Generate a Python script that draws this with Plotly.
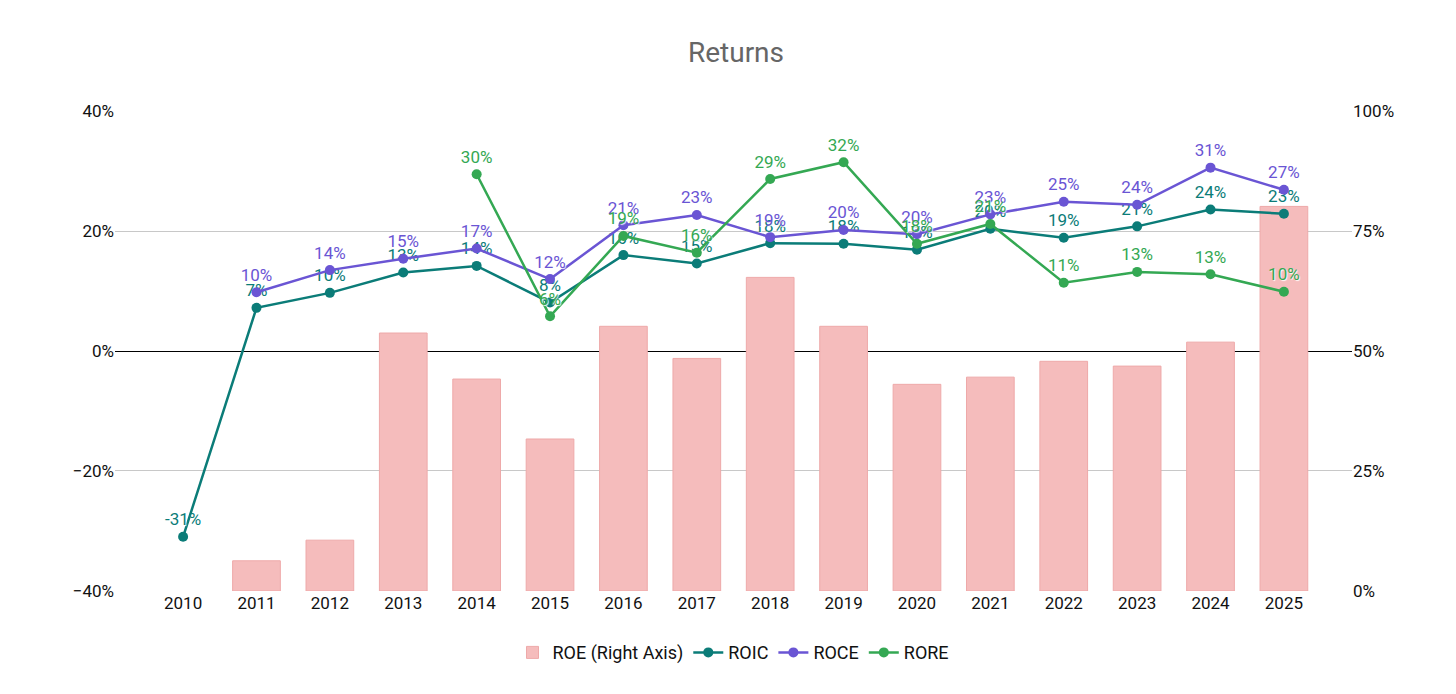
import plotly.graph_objects as go

years = [str(y) for y in range(2010, 2026)]

# ROE on the right axis, in %
roe = [None, 6.3, 10.6, 53.8, 44.2, 31.7, 55.2, 48.5, 65.4, 55.2, 43.1, 44.6, 47.9, 46.9, 51.9, 80.2]
roic = [-31, 7.2, 9.7, 13.1, 14.2, 8.1, 16.0, 14.6, 18.0, 17.9, 16.9, 20.4, 18.9, 20.8, 23.6, 22.9]
roce = [None, 9.8, 13.5, 15.4, 17.1, 12.0, 21.0, 22.7, 19.0, 20.2, 19.5, 22.8, 24.9, 24.4, 30.6, 26.9]
rore = [None, None, None, None, 29.5, 5.8, 19.2, 16.4, 28.7, 31.5, 17.9, 21.2, 11.4, 13.2, 12.8, 9.9]

teal = '#0b7c78'
purple = '#6a55d4'
green = '#34a853'


def labels(vals):
    return ['' if v is None else f"{round(v):.0f}%" for v in vals]


fig = go.Figure()

# bars sit on the base axis (drawn right side) so the lines overlay them
fig.add_trace(go.Bar(
    x=years, y=roe, name='ROE (Right Axis)', yaxis='y',
    marker=dict(color='#f5bcbc', line=dict(color='#eea9a9', width=1)),
    width=0.65))

for name, vals, color in [('ROIC', roic, teal), ('ROCE', roce, purple), ('RORE', rore, green)]:
    fig.add_trace(go.Scatter(
        x=years, y=vals, name=name, mode='lines+markers+text', yaxis='y2',
        line=dict(color=color, width=2.5),
        marker=dict(color=color, size=10),
        text=labels(vals), textposition='top center',
        textfont=dict(color=color, size=17, shadow='1px 1px 1px white'),
        cliponaxis=False, connectgaps=False))

fig.update_layout(
    title=dict(text='Returns', x=0.5, y=0.95, font=dict(size=28, color='#666')),
    font=dict(family='Roboto, Arial', size=17, color='#111'),
    plot_bgcolor='white', paper_bgcolor='white',
    width=1456, height=694,
    margin=dict(l=107, r=112, t=103, b=111),
    bargap=0.35,
    xaxis=dict(type='category', showgrid=False, ticks='', automargin=False),
    yaxis=dict(range=[0, 100.1], dtick=25, ticksuffix='%', side='right',
               showgrid=False, zeroline=False, automargin=False),
    yaxis2=dict(range=[-40.05, 40.05], dtick=20, ticksuffix='%', overlaying='y', side='left',
                gridcolor='#c8c8c8', zeroline=True, zerolinecolor='#000', zerolinewidth=1,
                automargin=False),
    legend=dict(orientation='h', x=0.5, xanchor='center', y=-0.09, yanchor='top',
                font=dict(size=18)),
)

fig.write_html("out.html")
